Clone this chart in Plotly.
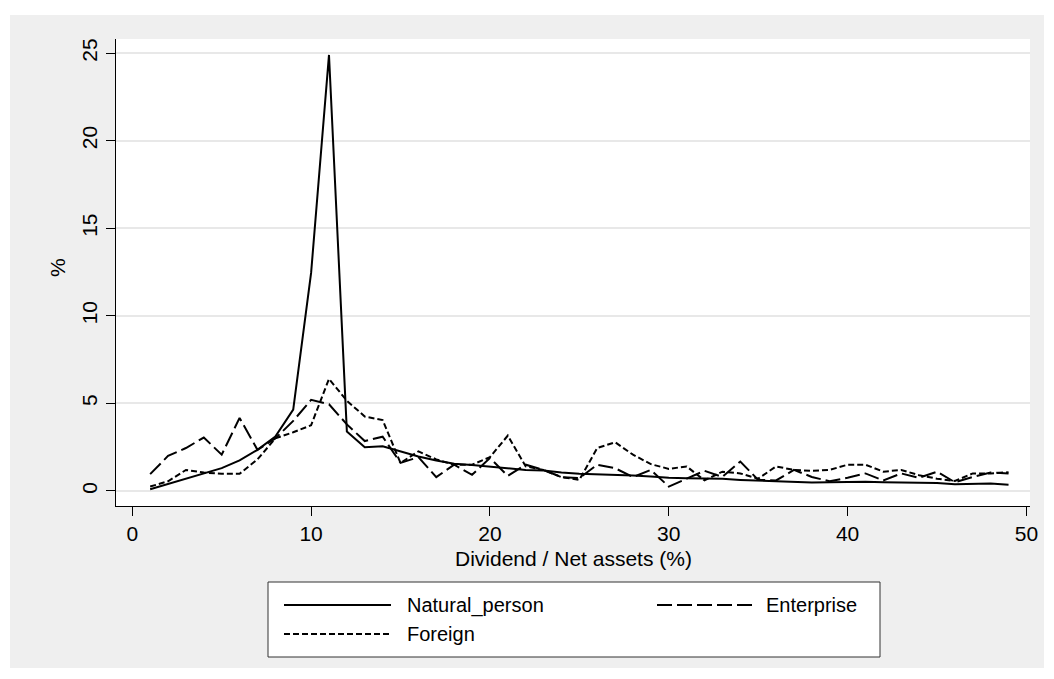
import plotly.graph_objects as go

# ---------------- data ----------------
x_vals = list(range(1, 50))

natural_person = [0.1, 0.4, 0.7, 1.0, 1.3, 1.75, 2.35, 3.1, 4.65, 12.45,
                  24.9, 3.4, 2.5, 2.55, 2.26, 1.97, 1.74, 1.55, 1.48, 1.4,
                  1.3, 1.2, 1.17, 1.05, 0.98, 0.96, 0.92, 0.88, 0.82, 0.75,
                  0.73, 0.73, 0.69, 0.63, 0.6, 0.57, 0.54, 0.48, 0.5, 0.53,
                  0.52, 0.5, 0.48, 0.5, 0.46, 0.38, 0.42, 0.42, 0.35]

enterprise = [0.96, 2.0, 2.45, 3.05, 2.07, 4.17, 2.35, 3.0, 4.0, 5.2,
              4.95, 3.8, 2.85, 3.1, 1.6, 1.93, 0.79, 1.5, 0.92, 1.88,
              0.86, 1.5, 1.2, 0.79, 0.73, 1.5, 1.3, 0.79, 1.2, 0.25,
              0.7, 1.15, 0.8, 1.68, 0.63, 0.6, 1.2, 0.8, 0.55, 0.75,
              1.0, 0.6, 1.0, 0.75, 1.1, 0.5, 0.8, 1.05, 1.0]

foreign = [0.25, 0.55, 1.2, 1.05, 0.98, 0.98, 1.8, 3.0, 3.35, 3.75,
           6.4, 5.15, 4.25, 4.05, 1.6, 2.26, 1.8, 1.5, 1.5, 1.93,
           3.16, 1.4, 1.2, 0.79, 0.63, 2.45, 2.78, 2.07, 1.53, 1.26,
           1.4, 0.6, 1.1, 1.0, 0.7, 1.4, 1.2, 1.15, 1.2, 1.5,
           1.5, 1.1, 1.2, 0.9, 0.7, 0.57, 1.0, 1.0, 1.07]

series_names = ["Natural_person", "Enterprise", "Foreign"]
x_ticks = [0, 10, 20, 30, 40, 50]
y_ticks = [0, 5, 10, 15, 20, 25]
x_title = "Dividend / Net assets (%)"
y_title = "%"

# ---------------- style ----------------
FONT = "Liberation Sans, Arial, Helvetica, sans-serif"
FS = 21
LFS = 20
W, H = 1054, 679
PL, PT, PR, PB = 116, 39, 1030, 506          # plot area in pixels
PW, PH = PR - PL, PB - PT
BG = "#EFEFEF"
dashes = ["solid", "15px,5px", "6px,3px"]


def px(v):
    return (v - PL) / PW


def py(v):
    return (PB - v) / PH


fig = go.Figure()
for name, ys, d in zip(series_names, [natural_person, enterprise, foreign], dashes):
    fig.add_trace(go.Scatter(x=x_vals, y=ys, mode="lines", name=name,
                             line=dict(color="black", width=2, dash=d),
                             showlegend=False))

shapes = [
    dict(type="rect", xref="paper", yref="paper", x0=px(10), x1=px(1044),
         y0=py(668), y1=py(15), fillcolor=BG, line=dict(width=0), layer="below"),
    dict(type="rect", xref="paper", yref="paper", x0=0, x1=1, y0=0, y1=1,
         fillcolor="white", line=dict(width=0), layer="below"),
]

# legend box (custom, matching Stata look)
LX0, LX1, LY0, LY1 = 268, 880, 582, 657
shapes.append(dict(type="rect", xref="paper", yref="paper", x0=px(LX0), x1=px(LX1),
                   y0=py(LY1), y1=py(LY0), fillcolor="white",
                   line=dict(color="#333333", width=1)))
legend_items = [
    (series_names[0], dashes[0], 284, 391, 405, 605),
    (series_names[1], dashes[1], 657, 752, 764, 605),
    (series_names[2], dashes[2], 284, 391, 405, 634),
]
annotations = []
for name, d, s0, s1, tx, sy in legend_items:
    shapes.append(dict(type="line", xref="paper", yref="paper",
                       x0=px(s0), x1=px(s1), y0=py(sy), y1=py(sy),
                       line=dict(color="black", width=2, dash=d)))
    annotations.append(dict(text=name, xref="paper", yref="paper",
                            x=px(tx), y=py(sy), xanchor="left", yanchor="middle",
                            showarrow=False, font=dict(family=FONT, size=LFS, color="black")))

annotations.append(dict(text=x_title, xref="paper", yref="paper",
                        x=px((PL + PR) / 2), y=py(558), xanchor="center", yanchor="middle",
                        showarrow=False, font=dict(family=FONT, size=FS, color="black")))
annotations.append(dict(text=y_title, xref="paper", yref="paper",
                        x=px(57), y=py(268), xanchor="center", yanchor="middle",
                        textangle=-90, showarrow=False,
                        font=dict(family=FONT, size=FS, color="black")))

fig.update_layout(
    width=W, height=H,
    margin=dict(l=PL, r=W - PR, t=PT, b=H - PB, pad=0),
    paper_bgcolor="white",
    plot_bgcolor="white",
    font=dict(family=FONT, size=FS, color="black"),
    shapes=shapes,
    annotations=annotations,
    showlegend=False,
)

fig.update_xaxes(range=[-0.91, 50.2], tickvals=x_ticks, ticktext=[str(t) for t in x_ticks],
                 showgrid=False, zeroline=False, showline=True, linecolor="black",
                 linewidth=1.3, ticks="outside", ticklen=9, tickwidth=1.2,
                 tickcolor="black", tickfont=dict(family=FONT, size=FS, color="black"))
fig.update_yaxes(range=[-0.86, 25.81], tickvals=y_ticks, ticktext=[str(t) for t in y_ticks],
                 showgrid=True, gridcolor="#E8E8E8", gridwidth=2, zeroline=False,
                 showline=True, linecolor="black", linewidth=1.3, ticks="outside",
                 ticklen=9, tickwidth=1.2, tickcolor="black", tickangle=-90,
                 tickfont=dict(family=FONT, size=FS, color="black"))

fig.write_html("out.html")
